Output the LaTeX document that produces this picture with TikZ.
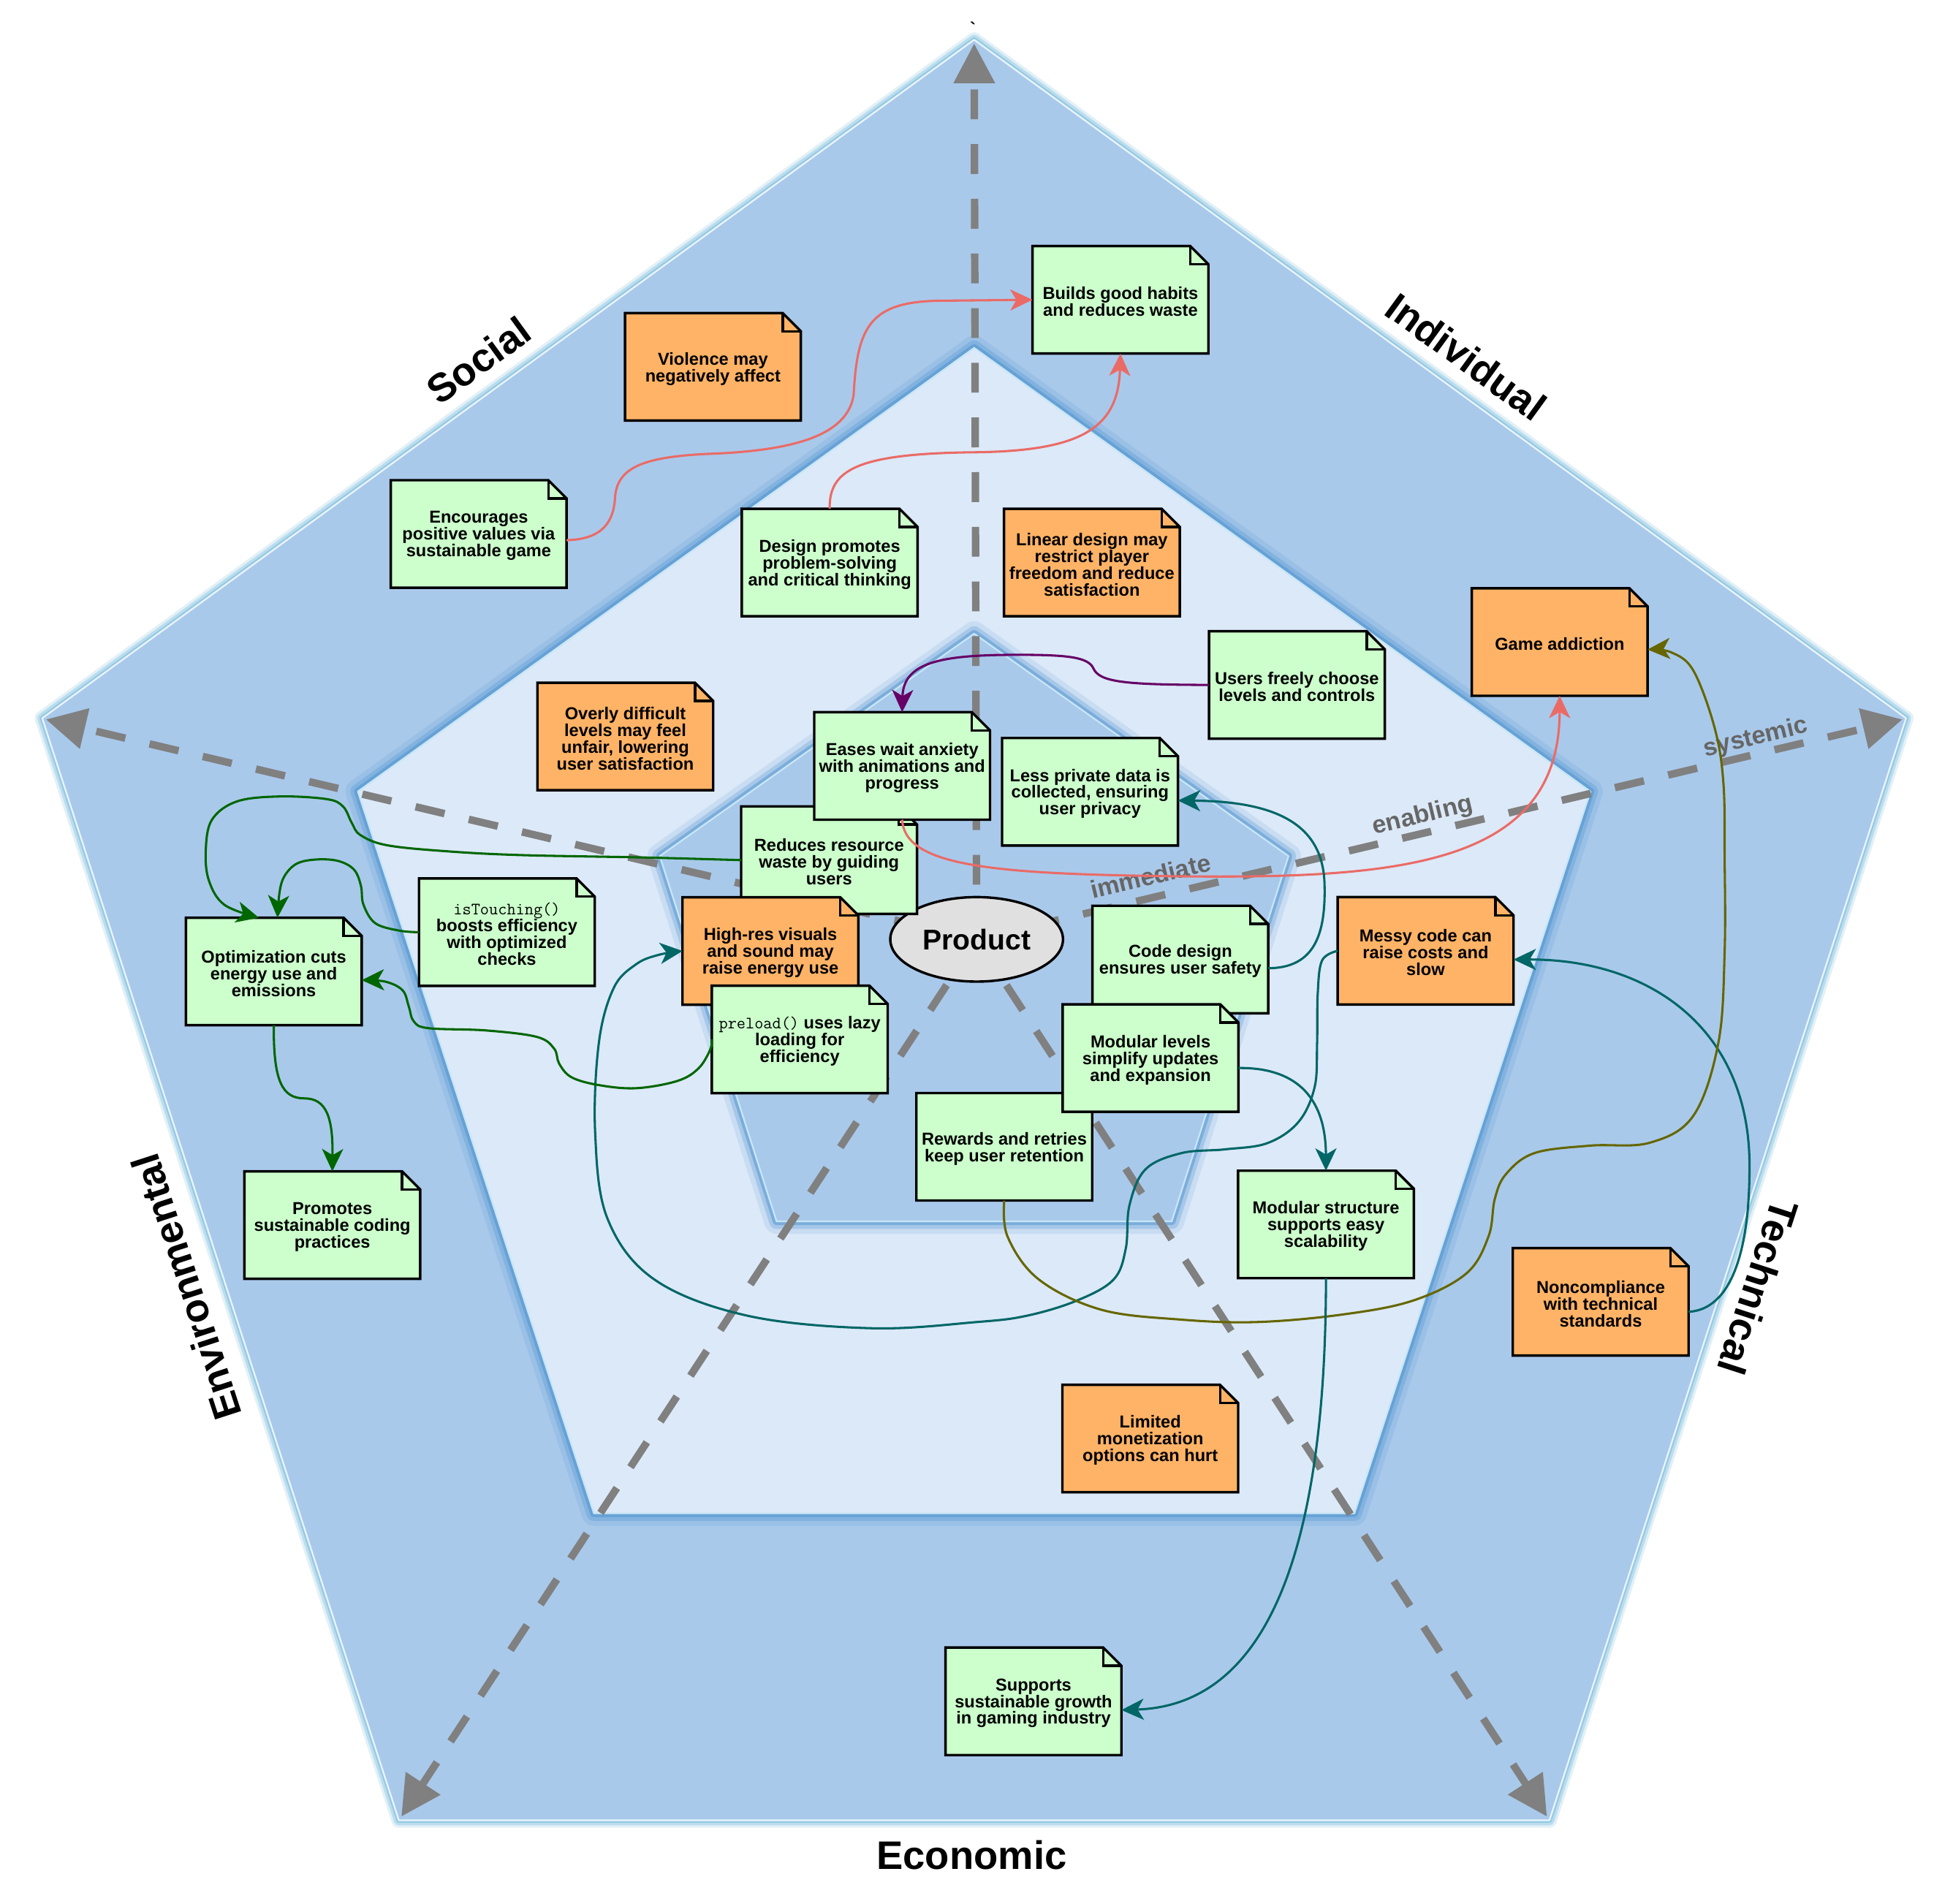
\documentclass[tikz,border=0pt]{standalone}
\usepackage{fontspec}
\setmainfont{Liberation Sans}
\usetikzlibrary{arrows.meta,shapes.geometric}
\definecolor{gfill}{HTML}{CCFFCC}
\definecolor{ofill}{HTML}{FFB366}
\definecolor{salmon}{HTML}{EA6B66}
\definecolor{dgreen}{HTML}{006600}
\definecolor{dteal}{HTML}{006666}
\definecolor{dpurple}{HTML}{660066}
\definecolor{dolive}{HTML}{666600}
\definecolor{ringdark}{HTML}{A9C9EB}
\definecolor{ringlight}{HTML}{DCE9F8}
\definecolor{glowout}{RGB}{140,198,226}
\definecolor{glowin}{RGB}{88,152,210}
\definecolor{paleedge}{RGB}{200,230,246}
\definecolor{axisgray}{HTML}{808080}
\definecolor{labgray}{HTML}{666666}
\definecolor{prodfill}{HTML}{E0E0E0}

\newcommand\notebox[5]{%
  \node[notebase, anchor=north west] (#1) at (#2,#3) {};
  \filldraw[noteline, fill=#4] (#1.north west) -- ([xshift=-14.6pt]#1.north east) -- ([yshift=-14.6pt]#1.north east) -- (#1.south east) -- (#1.south west) -- cycle;
  \draw[noteline] ([xshift=-14.6pt]#1.north east) -- ([xshift=-14.6pt,yshift=-14.6pt]#1.north east) -- ([yshift=-14.6pt]#1.north east);
  \node[notetext] (#1t) at ([yshift=-1.5pt]#1.center) {#5};
}

\begin{document}
\begin{tikzpicture}[x=1pt,y=-1pt,
  notebase/.style={rectangle, minimum width=141.5pt, minimum height=86.5pt, inner sep=0pt, outer sep=0pt},
  noteline/.style={line width=2pt, draw=black, line join=miter},
  notetext/.style={align=center, inner sep=0pt, font=\fontsize{13.9pt}{13.5pt}\selectfont\bfseries},
  conn/.style={line width=1.8pt, -{Stealth[length=18pt,width=17pt,inset=5pt]}},
  axisline/.style={draw=axisgray, line width=6pt, dash pattern=on 24pt off 20pt, -{Triangle[length=32pt,width=32pt]}},
  biglabel/.style={font=\fontsize{32pt}{36pt}\selectfont\bfseries, inner sep=0pt},
  axlabel/.style={font=\fontsize{20pt}{23pt}\selectfont\bfseries, text=labgray, inner sep=0pt},
  ]
\fill[white] (0,0) rectangle (1571.8,1531.8);
\useasboundingbox (0,0) rectangle (1571.8,1531.8);

% pentagon vertices
\coordinate (o1) at (784,32);
\coordinate (o2) at (1534,578);
\coordinate (o3) at (1247,1465);
\coordinate (o4) at (321,1465);
\coordinate (o5) at (34,578);
\coordinate (m1) at (784,280);
\coordinate (m2) at (1280,637);
\coordinate (m3) at (1090,1218);
\coordinate (m4) at (478,1218);
\coordinate (m5) at (288,637);
\coordinate (i1) at (784,510);
\coordinate (i2) at (1037,689);
\coordinate (i3) at (943,983);
\coordinate (i4) at (625,983);
\coordinate (i5) at (531,689);

% outer ring
\draw[glowout, line width=12pt, opacity=0.25, line join=round] (o1)--(o2)--(o3)--(o4)--(o5)--cycle;
\draw[glowout, line width=8pt, opacity=0.45, line join=round] (o1)--(o2)--(o3)--(o4)--(o5)--cycle;
\draw[glowout, line width=4pt, opacity=0.8, line join=round] (o1)--(o2)--(o3)--(o4)--(o5)--cycle;
\fill[ringdark] (o1)--(o2)--(o3)--(o4)--(o5)--cycle;
\draw[white, line width=1.3pt, opacity=0.8, line join=round] (o1)--(o2)--(o3)--(o4)--(o5)--cycle;

% middle ring
\draw[glowin, line width=20pt, opacity=0.18, line join=round] (m1)--(m2)--(m3)--(m4)--(m5)--cycle;
\draw[glowin, line width=12pt, opacity=0.35, line join=round] (m1)--(m2)--(m3)--(m4)--(m5)--cycle;
\draw[glowin, line width=6pt, opacity=0.65, line join=round] (m1)--(m2)--(m3)--(m4)--(m5)--cycle;
\fill[ringlight] (m1)--(m2)--(m3)--(m4)--(m5)--cycle;
\draw[paleedge, line width=1.3pt, line join=round] (m1)--(m2)--(m3)--(m4)--(m5)--cycle;

% inner ring
\draw[glowin, line width=20pt, opacity=0.15, line join=round] (i1)--(i2)--(i3)--(i4)--(i5)--cycle;
\draw[glowin, line width=12pt, opacity=0.3, line join=round] (i1)--(i2)--(i3)--(i4)--(i5)--cycle;
\draw[glowin, line width=6pt, opacity=0.55, line join=round] (i1)--(i2)--(i3)--(i4)--(i5)--cycle;
\fill[ringdark] (i1)--(i2)--(i3)--(i4)--(i5)--cycle;
\draw[paleedge, line width=1.3pt, line join=round] (i1)--(i2)--(i3)--(i4)--(i5)--cycle;

% axis labels (under the dashes)
\node[axlabel, rotate=13.4] (limm) at (926,705) {immediate};
\node[axlabel, rotate=13.4] (lena) at (1145,657) {enabling};
\node[axlabel, rotate=13.4] (lsys) at (1413,594) {systemic};

% axes
\coordinate (ctr) at (786,756);
\coordinate (aT) at (784,35);
\coordinate (aR) at (1531,579);
\coordinate (aBR) at (1245,1462);
\coordinate (aBL) at (323,1462);
\coordinate (aL) at (37,579);
\draw[axisline] (ctr) -- (aT);
\draw[axisline] (ctr) -- (aR);
\draw[axisline] (ctr) -- (aBR);
\draw[axisline] (ctr) -- (aBL);
\draw[axisline] (ctr) -- (aL);

% product
\node[ellipse, draw=black, line width=2pt, fill=prodfill, minimum width=139pt, minimum height=68pt, inner sep=0pt,
      font=\fontsize{23pt}{26pt}\selectfont\bfseries] (prod) at (786,756) {Product};

% notes
\notebox{bld}{831}{198}{gfill}{Builds good habits\\and reduces waste}
\notebox{vio}{503}{252}{ofill}{Violence may\\negatively affect}
\notebox{enc}{314.5}{386.5}{gfill}{Encourages\\positive values via\\sustainable game}
\notebox{des}{597}{409.5}{gfill}{Design promotes\\problem-solving\\and critical thinking}
\notebox{lin}{808}{409.5}{ofill}{Linear design may\\restrict player\\freedom and reduce\\satisfaction}
\notebox{gam}{1184.5}{473.5}{ofill}{Game addiction}
\notebox{usr}{973}{508}{gfill}{Users freely choose\\levels and controls}
\notebox{ovr}{432.5}{549.5}{ofill}{Overly difficult\\levels may feel\\unfair, lowering\\user satisfaction}
\notebox{red}{596.5}{649}{gfill}{Reduces resource\\waste by guiding\\users}
\notebox{eas}{655.3}{573.2}{gfill}{Eases wait anxiety\\with animations and\\progress}
\notebox{les}{806.5}{594}{gfill}{Less private data is\\collected, ensuring\\user privacy}
\notebox{ist}{337.2}{707}{gfill}{{\mdseries\ttfamily isTouching()}\\boosts efficiency\\with optimized\\checks}
\notebox{opt}{149.6}{738.6}{gfill}{Optimization cuts\\energy use and\\emissions}
\notebox{hig}{549.3}{722.1}{ofill}{High-res visuals\\and sound may\\raise energy use}
\notebox{pre}{572.9}{793.3}{gfill}{{\mdseries\ttfamily preload()} uses lazy\\loading for\\efficiency}
\notebox{cod}{879.2}{729}{gfill}{Code design\\ensures user safety}
\notebox{mes}{1076.6}{722}{ofill}{Messy code can\\raise costs and\\slow}
\notebox{rew}{737.5}{879.7}{gfill}{Rewards and retries\\keep user retention}
\notebox{mlv}{855.2}{808.3}{gfill}{Modular levels\\simplify updates\\and expansion}
\notebox{mst}{996.4}{942.2}{gfill}{Modular structure\\supports easy\\scalability}
\notebox{pro}{196.7}{942.7}{gfill}{Promotes\\sustainable coding\\practices}
\notebox{non}{1217.5}{1004.5}{ofill}{Noncompliance\\with technical\\standards}
\notebox{lim}{855}{1114.5}{ofill}{Limited\\monetization\\options can hurt}
\notebox{sup}{761}{1326}{gfill}{Supports\\sustainable growth\\in gaming industry}

% connectors
\draw[conn, salmon] ([yshift=-5pt]enc.east) .. controls (485,434) and (494,420) .. (495,400)
   .. controls (497,375) and (520,367) .. (577,365)
   .. controls (640,362) and (682,350) .. (687,318)
   .. controls (690,262) and (700,242) .. (760,242) -- (bld.west);
\draw[conn, salmon] (des.north) .. controls (667,378) and (690,365) .. (784,364)
   .. controls (870,363) and (900,345) .. (bld.south);
\draw[conn, salmon] (eas.south) .. controls (728,695) and (790,703) .. (930,705)
   .. controls (1120,708) and (1255,700) .. (gam.south);
\draw[conn, dpurple] (usr.west) .. controls (905,551) and (885,549) .. (880,538)
   .. controls (876,529) and (860,527) .. (820,527)
   .. controls (760,527) and (727,532) .. (eas.north);
\draw[conn, dteal] ([yshift=-7pt]cod.east) .. controls (1058,779) and (1067,752) .. (1066,712)
   .. controls (1065,665) and (1030,645) .. ([yshift=-7pt]les.east);
\draw[conn, dteal] plot[smooth, tension=0.6] coordinates {(mes.west) (1064,773) (1060.5,800) (1060,840) (1058,875) (1045,903) (1020,920) (986,925) (951,928) (922,941) (909,970) (906,1005) (896,1030) (866,1047) (826,1059) (786,1064) (702,1069) (602,1059) (527,1030) (489,981) (479,912) (482,839) (494,795) (512,776) (530,768.5) (hig.west)};
\draw[conn, dteal] ([yshift=-8pt]non.east) .. controls (1392,1054) and (1408,1010) .. (1408,940)
   .. controls (1409,830) and (1330,772) .. ([yshift=-7pt]mes.east);
\draw[conn, dolive] plot[smooth, tension=0.6] coordinates {(rew.south) (811,995.5) (836,1029.7) (886,1054) (950,1062) (1011.6,1064) (1080,1058) (1137,1046.8) (1180,1025) (1198,995) (1203,965) (1212,945) (1235,928) (1280,922) (1327.7,919.7) (1363,897.7) (1383,839) (1388,766) (1388,690) (1387,630) (1380,586) (1363,540) (1345,525) ([yshift=-6pt]gam.east)};
\draw[conn, dteal] ([yshift=-8pt]mlv.east) .. controls (1040,859) and (1067,880) .. (mst.north);
\draw[conn, dteal] (mst.south) .. controls (1067,1210) and (1035,1372) .. ([yshift=-7pt]sup.east);
\draw[conn, dgreen] plot[smooth, tension=0.6] coordinates {(red.west) (517.6,690.1) (419.6,688.2) (360.7,685.2) (311.7,680.3) (290,672) (283,662) (276,649) (262.7,643.1) (225,641) (190.7,645) (170.6,659.7) (165.6,684.2) (168.1,708.6) (180.6,728.2) ([xshift=-12pt]opt.north)};
\draw[conn, dgreen] plot[smooth, tension=0.6] coordinates {(ist.west) (321.5,749) (302,743) (292.5,728) (290.5,713) (285,700) (272.5,693) (255,691.7) (239,695) (229,705) (225,718) ([xshift=3pt]opt.north)};
\draw[conn, dgreen] plot[smooth, tension=0.6] coordinates {(pre.west) (571.5,845) (562,860) (545,870) (512,875.8) (482,873.3) (460,867) (450,856) (446,844) (432,834.5) (391,829.3) (345,827.5) (333,822) (329,810) (324,797) (310,790) ([yshift=-7pt]opt.east)};
\draw[conn, dgreen] (opt.south) .. controls (220,870) and (227,884) .. (245,884)
   .. controls (263,884) and (268,900) .. (pro.north);

% dimension labels
\node[biglabel, rotate=36] (lsoc) at (385,290) {Social};
\node[biglabel, rotate=-36] (lind) at (1180,287) {Individual};
\node[biglabel, rotate=108] (lenv) at (150,1036) {Environmental};
\node[biglabel, rotate=-108] (ltec) at (1415,1036) {Technical};
\node[biglabel] (leco) at (782,1493) {Economic};
\node[font=\fontsize{14pt}{14pt}\selectfont\bfseries, inner sep=0pt] (tick) at (783,23) {\textasciigrave};
\end{tikzpicture}
\end{document}
